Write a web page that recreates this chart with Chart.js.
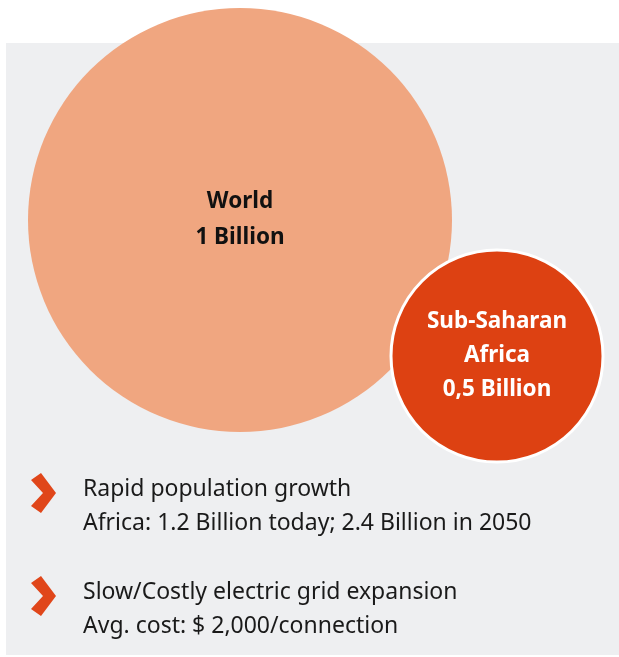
<!DOCTYPE html>
<html lang="en">
<head>
<meta charset="UTF-8">
<title>Population without electricity</title>
<script src="https://cdn.jsdelivr.net/npm/chart.js"></script>
<style>
body { margin:0; padding:0; background:#fff; font-family: "Noto Sans", sans-serif; }
#wrap { position:relative; width:619px; height:657px; overflow:hidden; }
#panel { position:absolute; left:6px; top:43px; width:613px; height:612px; background:#eeeff1; }
#chart { position:absolute; left:0; top:0; }
.item { position:absolute; left:0; width:619px; color:#1a1a1a; font-size:23px; line-height:34px; }
.item svg { position:absolute; left:31px; top:3px; }
.item div { position:absolute; left:83px; top:0; white-space:nowrap; }
</style>
</head>
<body>
<div id="wrap">
  <div id="panel"></div>
  <canvas id="chart" width="619" height="657"></canvas>
  <div class="item" style="top:470px;">
    <svg width="26" height="40" viewBox="0 0 26 40"><polygon points="0,7 10,0 25,20 10,40 0,33 12,20" fill="#e0461a"/></svg>
    <div>Rapid population growth<br>Africa: 1.2 Billion today; 2.4 Billion in 2050</div>
  </div>
  <div class="item" style="top:573px;">
    <svg width="26" height="40" viewBox="0 0 26 40"><polygon points="0,7 10,0 25,20 10,40 0,33 12,20" fill="#e0461a"/></svg>
    <div>Slow/Costly electric grid expansion<br>Avg. cost: $ 2,000/connection</div>
  </div>
</div>

<script>
// people without electricity access (billion)
const regions = ['World', 'Sub-Saharan Africa'];
const labelLines = [['World', '1 Billion'], ['Sub-Saharan', 'Africa', '0,5 Billion']];
const billions = [1, 0.5];

// layout only: bubble centres in plot units, px radius per billion
const centres = [[240, 220], [497, 356]];
const pxPerBillion = 212;

const fills = ['#f0a680', '#dd4112'];
const textColors = ['#111111', '#ffffff'];

const bubbleLabels = {
  id: 'bubbleLabels',
  afterDatasetsDraw(chart) {
    const ctx = chart.ctx;
    const meta = chart.getDatasetMeta(0);
    ctx.save();
    ctx.font = 'bold 22.5px "Noto Sans", sans-serif';
    ctx.textAlign = 'center';
    ctx.textBaseline = 'middle';
    meta.data.forEach((el, i) => {
      const lines = labelLines[i];
      const lh = i === 0 ? 36 : 34;
      const y0 = el.y - (lines.length - 1) * lh / 2;
      ctx.fillStyle = textColors[i];
      lines.forEach((t, j) => ctx.fillText(t, el.x, y0 + j * lh));
    });
    ctx.restore();
  }
};

new Chart(document.getElementById('chart'), {
  type: 'bubble',
  data: {
    labels: regions,
    datasets: [{
      data: billions.map((v, i) => ({ x: centres[i][0], y: centres[i][1], r: v * pxPerBillion })),
      backgroundColor: fills,
      borderColor: ['rgba(0,0,0,0)', '#ffffff'],
      borderWidth: [0, 3],
      hoverRadius: 0,
      clip: false
    }]
  },
  options: {
    responsive: false,
    animation: false,
    events: [],
    layout: { padding: 0, autoPadding: false },
    plugins: { legend: { display: false }, tooltip: { enabled: false } },
    scales: {
      x: { type: 'linear', min: 0, max: 619, display: false },
      y: { type: 'linear', min: 0, max: 657, reverse: true, display: false }
    }
  },
  plugins: [bubbleLabels]
});
</script>
</body>
</html>
